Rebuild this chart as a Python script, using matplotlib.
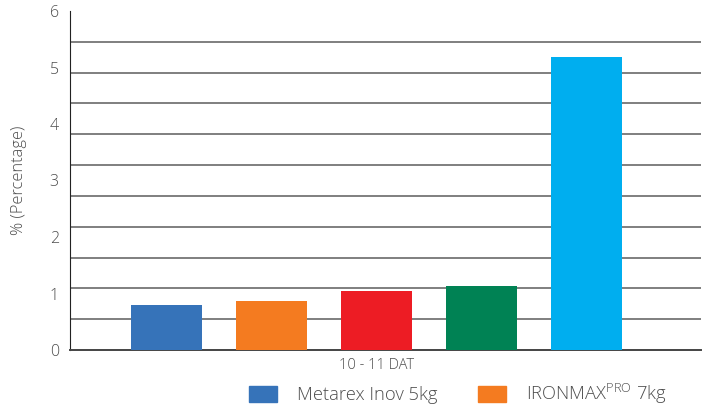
import numpy as np
import matplotlib.pyplot as plt
from matplotlib.patches import Patch

plt.rcParams['font.family'] = ['Open Sans', 'DejaVu Sans']
plt.rcParams['font.weight'] = 'light'
plt.rcParams['axes.labelweight'] = 'light'

category = '10 - 11 DAT'
series = ['Metarex Inov 5kg', 'IRONMAX$^{\\mathregular{PRO}}$ 7kg', 'Series 3', 'Series 4', 'Series 5']
values = [0.80, 0.87, 1.04, 1.13, 5.19]
colors = ['#3673B9', '#F47B20', '#ED1C24', '#008254', '#00AEEF']
text_col = '#4d4d4d'

fig = plt.figure(figsize=(7.02, 4.12), dpi=100)
ax = fig.add_axes([70 / 702, 1 - 350 / 412, 631 / 702, 339 / 412])

x = np.arange(len(values)) - (len(values) - 1) / 2
ax.bar(x, values, width=0.68, color=colors, zorder=3)

ax.set_xlim(-2.92, 3.09)
ax.set_ylim(0, 6)
ax.set_yticks(range(7))
ax.set_yticks(np.linspace(0, 6, 12), minor=True)
ax.grid(which='minor', axis='y', color='#7f7f7f', lw=1.4, zorder=0)
ax.tick_params(axis='y', which='both', length=0, pad=8, labelsize=11.5, labelcolor=text_col)
ax.set_xticks([0])
ax.set_xticklabels([category])
ax.tick_params(axis='x', length=0, pad=6, labelsize=10.5, labelcolor=text_col)

for s in ['top', 'right']:
    ax.spines[s].set_visible(False)
ax.spines['left'].set_color('#222222')
ax.spines['bottom'].set_color('#444444')
ax.spines['bottom'].set_linewidth(1.4)

ax.set_ylabel('% (Percentage)', fontsize=11.8, color=text_col, labelpad=16,
              fontweight='light')

handles = [Patch(color=colors[0]), Patch(color=colors[1])]
fig.legend(handles, series[:2], loc='center left', bbox_to_anchor=(249 / 702, 1 - 394 / 412),
           ncol=2, frameon=False, fontsize=13.2, labelcolor=text_col,
           handlelength=1.53, handleheight=0.98, handletextpad=1.09, columnspacing=2.2,
           borderpad=0, borderaxespad=0)

fig.savefig('out.png', dpi=100)
